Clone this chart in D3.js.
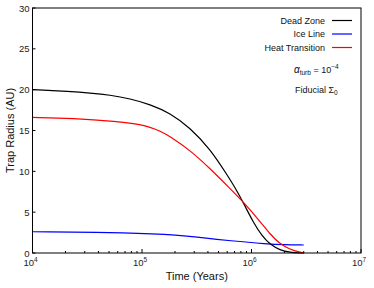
<!DOCTYPE html>
<html><head><meta charset="utf-8">
<script src="https://cdn.jsdelivr.net/npm/d3@7"></script>
<style>body{margin:0;background:#fff}text{font-family:"Liberation Sans",Arial,sans-serif}</style>
</head><body><svg id="c" width="374" height="288"></svg>
<script>
const deadZoneT = [1e4, 2.2e4, 3.35e4, 5.1e4, 7.77e4, 1.183e5, 1.8e5, 2.74e5, 4.18e5, 5.97e5, 7.38e5, 8.73e5, 1.03e6, 1.25e6, 1.48e6, 1.82e6, 2.25e6, 2.77e6, 3e6];
const deadZoneR = [20.0, 19.78, 19.6, 19.35, 18.9, 18.2, 17.15, 15.35, 12.75, 9.6, 7.6, 5.75, 3.85, 2.05, 1.05, 0.35, 0.07, 0.0, 0.0];
const heatT = [1e4, 2.34e4, 5.92e4, 9.6e4, 1.183e5, 1.46e5, 1.8e5, 2.74e5, 4.18e5, 6.36e5, 8.36e5, 1.2e6, 1.48e6, 1.82e6, 2.25e6, 2.77e6, 3e6];
const heatR = [16.6, 16.5, 16.1, 15.75, 15.4, 14.95, 14.3, 12.6, 10.35, 7.9, 6.3, 3.85, 2.3, 1.1, 0.45, 0.08, 0.0];
const iceT = [1e4, 7.8e4, 2.23e5, 3.4e5, 6.36e5, 1.39e6, 2e6, 3e6];
const iceR = [2.6, 2.5, 2.2, 1.9, 1.5, 1.1, 1.0, 0.98];
const yTicks = [0, 5, 10, 15, 20, 25, 30];
const xTickExp = [4, 5, 6, 7];
const seriesNames = ["Dead Zone", "Ice Line", "Heat Transition"];
const seriesColors = ["#000000", "#0000ff", "#ff0000"];

const svg = d3.select("#c");
const L = 32.5, R = 361, T = 8, B = 253;
const x = d3.scaleLog().domain([1e4, 1e7]).range([L, R]);
const y = d3.scaleLinear().domain([0, 30]).range([B, T]);

const series = [
  {name: seriesNames[0], color: seriesColors[0], t: deadZoneT, r: deadZoneR},
  {name: seriesNames[1], color: seriesColors[1], t: iceT, r: iceR},
  {name: seriesNames[2], color: seriesColors[2], t: heatT, r: heatR}
];
const line = d3.line().x(d => x(d[0])).y(d => y(d[1])).curve(d3.curveBasis);
const g = svg.append("g");
[series[1], series[0], series[2]].forEach(s => {
  g.append("path").datum(s.t.map((t, i) => [t, s.r[i]]))
    .attr("d", line).attr("fill", "none").attr("stroke", s.color).attr("stroke-width", 1.2);
});

svg.append("rect").attr("x", L).attr("y", T).attr("width", R - L).attr("height", B - T)
  .attr("fill", "none").attr("stroke", "#000").attr("stroke-width", 1);

yTicks.forEach(v => {
  svg.append("line").attr("x1", L).attr("x2", L + 3).attr("y1", y(v)).attr("y2", y(v)).attr("stroke", "#000");
  svg.append("text").attr("x", L - 3).attr("y", y(v) + 3.5).attr("text-anchor", "end")
    .attr("font-size", 9.5).attr("fill", "#222").text(v);
});
xTickExp.forEach(e => {
  const xv = x(Math.pow(10, e));
  svg.append("line").attr("x1", xv).attr("x2", xv).attr("y1", B).attr("y2", B - 4).attr("stroke", "#000");
  const t = svg.append("text").attr("x", xv - 2).attr("y", B + 13).attr("text-anchor", "middle")
    .attr("font-size", 9.5).attr("fill", "#222");
  t.append("tspan").text("10");
  t.append("tspan").attr("dy", -4).attr("font-size", 6.5).text(e);
  if (e < 7) {
    for (let k = 2; k <= 9; k++) {
      const xm = x(k * Math.pow(10, e));
      svg.append("line").attr("x1", xm).attr("x2", xm).attr("y1", B).attr("y2", B - 2).attr("stroke", "#000");
    }
  }
});

svg.append("text").attr("x", (L + R) / 2).attr("y", 280).attr("text-anchor", "middle")
  .attr("font-size", 11).attr("fill", "#111").text("Time (Years)");
svg.append("text").attr("transform", `translate(14,${(T + B) / 2}) rotate(-90)`).attr("text-anchor", "middle")
  .attr("font-size", 11).attr("fill", "#111").text("Trap Radius (AU)");

series.forEach((s, i) => {
  const ly = 20.5 + i * 13.5;
  svg.append("text").attr("x", 325).attr("y", ly + 3.2).attr("text-anchor", "end")
    .attr("font-size", 9).attr("fill", "#111").text(s.name);
  svg.append("line").attr("x1", 332).attr("x2", 352).attr("y1", ly).attr("y2", ly)
    .attr("stroke", s.color).attr("stroke-width", 1.2);
});
const a = svg.append("text").attr("x", 294).attr("y", 73).attr("font-size", 9).attr("fill", "#111");
a.append("tspan").attr("font-style", "italic").attr("font-size", 10).text("α");
a.append("tspan").attr("dy", 2).attr("font-size", 6.5).text("turb");
a.append("tspan").attr("dy", -2).text(" = 10");
a.append("tspan").attr("dy", -4).attr("font-size", 6.5).text("−4");
const f = svg.append("text").attr("x", 295).attr("y", 93).attr("font-size", 9).attr("fill", "#111");
f.append("tspan").text("Fiducial Σ");
f.append("tspan").attr("dy", 2).attr("font-size", 6.5).text("0");
</script></body></html>
